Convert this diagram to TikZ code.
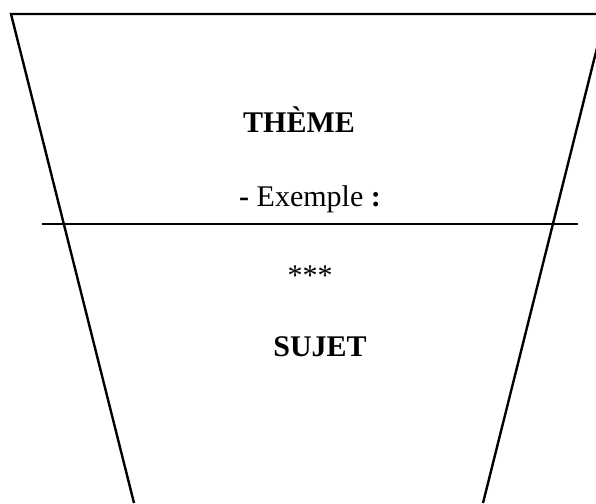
\documentclass[tikz,border=0pt]{standalone}
\usepackage{fontspec}
\setmainfont{Liberation Serif}

\begin{document}
\begin{tikzpicture}[x=1pt, y=1pt,
  label/.style={anchor=base, inner sep=0pt, font=\fontsize{30}{36}\selectfont},
  rim/.style={line width=2.4pt},
]
\clip (0,0) rectangle (596,503);

% funnel corners
\coordinate (tl) at (11,489);
\coordinate (tr) at (605.5,489);
\coordinate (bl) at (134,0);
\coordinate (br) at (483,0);
\coordinate (ml) at (42,279);
\coordinate (mr) at (578,279);

\draw[rim, line join=miter]
  (bl) -- (tl) -- (tr) -- (br);
\draw[line width=1.7pt]
  (ml) -- (mr);

% texts
\node[label] at (299,370)
(theme) {\textbf{THÈME}};

\node[label] at (310,296)
(exemple) {\textbf{-} Exemple \textbf{:}};

\node[label] at (310,217)
(stars) {***};

\node[label] at (320,146)
(sujet) {\textbf{SUJET}};
\end{tikzpicture}
\end{document}
